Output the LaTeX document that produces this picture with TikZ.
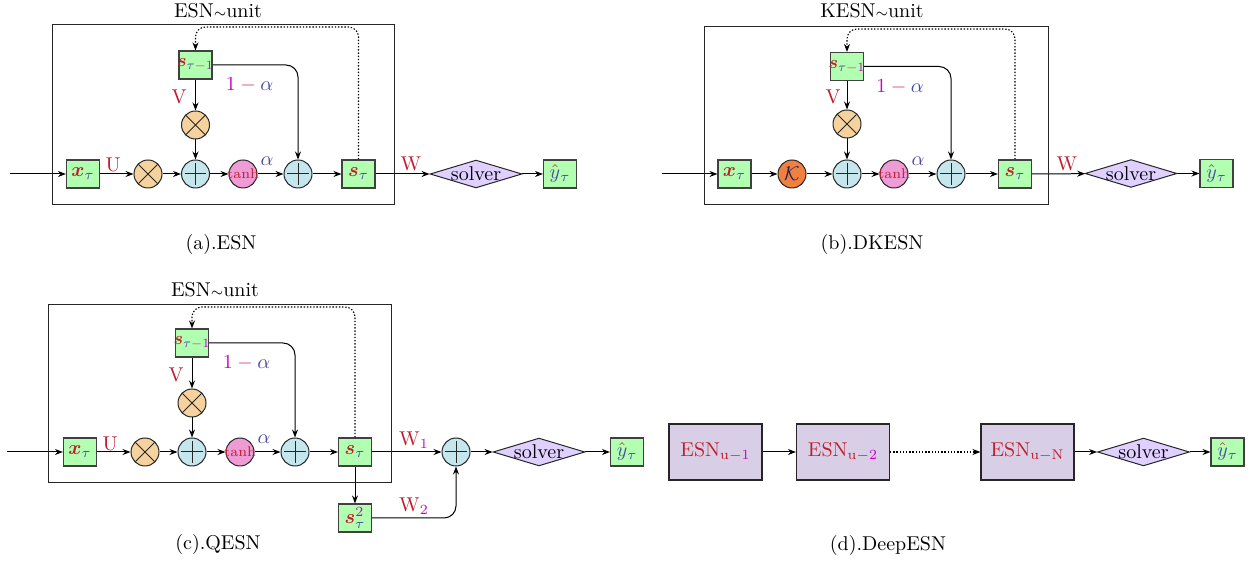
\documentclass[tikz,border=0pt]{standalone}
\usepackage{amsmath,amssymb,graphicx}
\usetikzlibrary{arrows.meta,shapes.geometric}
\pgfdeclarelayer{bg}
\pgfsetlayers{bg,main}
\definecolor{cGreen}{RGB}{178,255,178}
\definecolor{cOr}{RGB}{246,211,158}
\definecolor{cBl}{RGB}{196,230,236}
\definecolor{cPk}{RGB}{238,155,214}
\definecolor{cK}{RGB}{240,128,64}
\definecolor{cSol}{RGB}{224,208,255}
\definecolor{cDeep}{RGB}{216,206,230}
\definecolor{tRed}{RGB}{190,30,45}
\definecolor{tBlue}{RGB}{75,75,160}
\definecolor{tMag}{RGB}{200,0,200}
\definecolor{tPink}{RGB}{215,60,110}
\definecolor{tNavy}{RGB}{40,30,90}
\newcommand{\mys}{{\color{tRed}\boldsymbol{s}}}
\newcommand{\myx}{{\color{tRed}\boldsymbol{x}}}
\newcommand{\myt}{{\color{tBlue}\tau}}
\newcommand{\mym}{\mathbin{\color{tPink}-}}
\newcommand{\myone}{{\color{tMag}1}}
\newcommand{\myy}{{\color{tRed}\hat{{\color{tBlue}y}}}_{\myt}}
\newcommand{\myoma}{$\myone\mym{\color{tBlue}\alpha}$}
\newcommand{\mysp}{\makebox[0pt]{\scalebox{0.9}{$\mys_{\myt\mym\myone}$}}}
\begin{document}
\begin{tikzpicture}[x=0.5pt,y=-0.5pt,
  gbox/.style={draw=black!75, fill=cGreen, line width=0.55pt, minimum width=16.5pt, minimum height=14pt, inner sep=0pt},
  opc/.style={circle, draw=black!85, line width=0.5pt, minimum size=14pt, inner sep=0pt},
  mulop/.style={opc, fill=cOr, path picture={
     \draw[line width=0.5pt] ([shift={(-4.8pt,-4.8pt)}]path picture bounding box.center) -- ([shift={(4.8pt,4.8pt)}]path picture bounding box.center);
     \draw[line width=0.5pt] ([shift={(-4.8pt,4.8pt)}]path picture bounding box.center) -- ([shift={(4.8pt,-4.8pt)}]path picture bounding box.center);}},
  addop/.style={opc, fill=cBl, path picture={
     \draw[line width=0.5pt] ([shift={(-5.4pt,0pt)}]path picture bounding box.center) -- ([shift={(5.4pt,0pt)}]path picture bounding box.center);
     \draw[line width=0.5pt] ([shift={(0pt,-5.4pt)}]path picture bounding box.center) -- ([shift={(0pt,5.4pt)}]path picture bounding box.center);}},
  tanhop/.style={opc, fill=cPk, font=\scriptsize, text=tRed},
  kop/.style={opc, fill=cK},
  solv/.style={diamond, draw=black!85, fill=cSol, line width=0.5pt, aspect=3.3, inner xsep=-1.2pt, inner ysep=0pt},
  unitbox/.style={draw=black!85, line width=0.5pt, inner sep=0pt},
  deep/.style={draw=black!85, fill=cDeep, line width=0.55pt, minimum width=46.5pt, minimum height=28pt, inner sep=0pt},
  arr/.style={-{Stealth[length=4pt,width=3pt]}, line width=0.5pt},
  dots/.style={line width=0.55pt, dash pattern=on 0.7pt off 0.9pt},
  lbl/.style={inner sep=0pt, text=tRed}
]
\useasboundingbox (0,0) rectangle (1252,565);

% ---------------- (a) ESN ----------------
\node[unitbox, minimum width=171pt, minimum height=90pt] (aBox) at (223,115) {};
\node (aTitle) at (218,11) {ESN${\scriptstyle\sim}$unit};
\coordinate (aIn) at (10,174);
\node[gbox] (aX) at (83,174) {$\myx_{\myt}$};
\node[mulop] (aM1) at (148,174) {};
\node[addop] (aP1) at (195.5,174) {};
\node[tanhop] (aT) at (243,174) {\makebox[0pt]{tanh}};
\node[addop] (aP2) at (298,174) {};
\node[gbox] (aS) at (358.5,174) {$\mys_{\myt}$};
\node[gbox] (aSp) at (195.5,65) {\mysp};
\node[mulop] (aM2) at (195.5,125) {};
\coordinate (aTop) at (300,27);
\node[solv] (aSol) at (476,174) {solver};
\node[gbox] (aY) at (560,174) {$\myy$};
\node[lbl] (aU) at (113,165) {U};
\node[lbl] (aV) at (179,97) {V};
\node[lbl] (aOma) at (249.5,85) {\myoma};
\node[lbl] (aAl) at (267,161) {$\color{tBlue}\alpha$};
\node[lbl] (aW) at (411,164) {W};
\node (aCap) at (221,245) {(a).ESN};
\begin{pgfonlayer}{bg}
\draw[arr] (aIn) -- (aX);
\draw[arr] (aX) -- (aM1);
\draw[arr] (aM1) -- (aP1);
\draw[arr] (aP1) -- (aT);
\draw[arr] (aT) -- (aP2);
\draw[arr] (aP2) -- (aS);
\draw[arr] (aSp) -- (aM2);
\draw[arr] (aM2) -- (aP1);
\draw[arr, rounded corners=6pt] (aSp.east) -| (aP2.north);
\draw[arr, dots, rounded corners=5pt] (aS.north) |- (aTop) -| (aSp.north);
\draw[arr] (aS) -- (aSol);
\draw[arr] (aSol) -- (aY);
\end{pgfonlayer}

% ---------------- (b) DKESN ----------------
\node[unitbox, minimum width=172pt, minimum height=89pt] (bBox) at (876,116) {};
\node (bTitle) at (872,11) {KESN${\scriptstyle\sim}$unit};
\coordinate (bIn) at (662,174);
\node[gbox] (bX) at (734.5,174) {$\myx_{\myt}$};
\node[kop] (bK) at (792,174) {$\color{tNavy}\mathcal{K}$};
\node[addop] (bP1) at (847,174) {};
\node[tanhop] (bT) at (894,174) {\makebox[0pt]{tanh}};
\node[addop] (bP2) at (951,174) {};
\node[gbox] (bS) at (1015,174) {$\mys_{\myt}$};
\node[gbox] (bSp) at (847,66.5) {\mysp};
\node[mulop] (bM2) at (847,124) {};
\coordinate (bTop) at (950,29);
\node[solv] (bSol) at (1131,173.5) {solver};
\node[gbox] (bY) at (1216.5,173.5) {$\myy$};
\node[lbl] (bV) at (833,97) {V};
\node[lbl] (bOma) at (900,87) {\myoma};
\node[lbl] (bAl) at (918,161) {$\color{tBlue}\alpha$};
\node[lbl] (bW) at (1067,164) {W};
\node (bCap) at (872,245) {(b).DKESN};
\begin{pgfonlayer}{bg}
\draw[arr] (bIn) -- (bX);
\draw[arr] (bX) -- (bK);
\draw[arr] (bK) -- (bP1);
\draw[arr] (bP1) -- (bT);
\draw[arr] (bT) -- (bP2);
\draw[arr] (bP2) -- (bS);
\draw[arr] (bSp) -- (bM2);
\draw[arr] (bM2) -- (bP1);
\draw[arr, rounded corners=6pt] (bSp.east) -| (bP2.north);
\draw[arr, dots, rounded corners=5pt] (bS.north) |- (bTop) -| (bSp.north);
\draw[arr] (bS) -- (bSol);
\draw[arr] (bSol) -- (bY);
\end{pgfonlayer}

% ---------------- (c) QESN ----------------
\node[unitbox, minimum width=171.5pt, minimum height=89pt] (cBox) at (219.5,394) {};
\node (cTitle) at (215,290) {ESN${\scriptstyle\sim}$unit};
\coordinate (cIn) at (7,452);
\node[gbox] (cX) at (80,452) {$\myx_{\myt}$};
\node[mulop] (cM1) at (145,452) {};
\node[addop] (cP1) at (192,452) {};
\node[tanhop] (cT) at (240,452) {\makebox[0pt]{tanh}};
\node[addop] (cP2) at (295,452) {};
\node[gbox] (cS) at (355,452) {$\mys_{\myt}$};
\node[gbox] (cSp) at (192,343) {\mysp};
\node[mulop] (cM2) at (192,403) {};
\coordinate (cTop) at (297,307);
\node[gbox] (cSq) at (355,518) {$\mys_{\myt}^{\color{tMag}2}$};
\node[addop] (cPo) at (456,452) {};
\node[solv] (cSol) at (539,452) {solver};
\node[gbox] (cY) at (627,452) {$\myy$};
\node[lbl] (cU) at (110,444) {U};
\node[lbl] (cV) at (176,375) {V};
\node[lbl] (cOma) at (246.5,363) {\myoma};
\node[lbl] (cAl) at (264,439) {$\color{tBlue}\alpha$};
\node[lbl] (cW1) at (414,440) {W$_{\color{tMag}1}$};
\node[lbl] (cW2) at (414,506) {W$_{\color{tMag}2}$};
\node (cCap) at (218,545) {(c).QESN};
\begin{pgfonlayer}{bg}
\draw[arr] (cIn) -- (cX);
\draw[arr] (cX) -- (cM1);
\draw[arr] (cM1) -- (cP1);
\draw[arr] (cP1) -- (cT);
\draw[arr] (cT) -- (cP2);
\draw[arr] (cP2) -- (cS);
\draw[arr] (cSp) -- (cM2);
\draw[arr] (cM2) -- (cP1);
\draw[arr, rounded corners=6pt] (cSp.east) -| (cP2.north);
\draw[arr, dots, rounded corners=5pt] (cS.north) |- (cTop) -| (cSp.north);
\draw[arr] (cS) -- (cPo);
\draw[arr] (cS) -- (cSq);
\draw[arr, rounded corners=6pt] (cSq.east) -| (cPo.south);
\draw[arr] (cPo) -- (cSol);
\draw[arr] (cSol) -- (cY);
\end{pgfonlayer}

% ---------------- (d) DeepESN ----------------
\node[deep] (dA) at (715.5,452) {${\color{tRed}\mathrm{ESN}}_{{\color{tRed}\mathrm{u}-}\myone}$};
\node[deep] (dB) at (843,452) {${\color{tRed}\mathrm{ESN}}_{{\color{tRed}\mathrm{u}-}{\color{tMag}2}}$};
\node[deep] (dC) at (1027.5,452) {${\color{tRed}\mathrm{ESN}}_{\color{tRed}\mathrm{u}-\mathrm{N}}$};
\node[solv] (dSol) at (1143.5,452) {solver};
\node[gbox] (dY) at (1227.5,452) {$\myy$};
\node (dCap) at (888,546) {(d).DeepESN};
\begin{pgfonlayer}{bg}
\draw[arr] (dA) -- (dB);
\draw[arr, dots] (dB) -- (dC);
\draw[arr] (dC) -- (dSol);
\draw[arr] (dSol) -- (dY);
\end{pgfonlayer}
\end{tikzpicture}
\end{document}
